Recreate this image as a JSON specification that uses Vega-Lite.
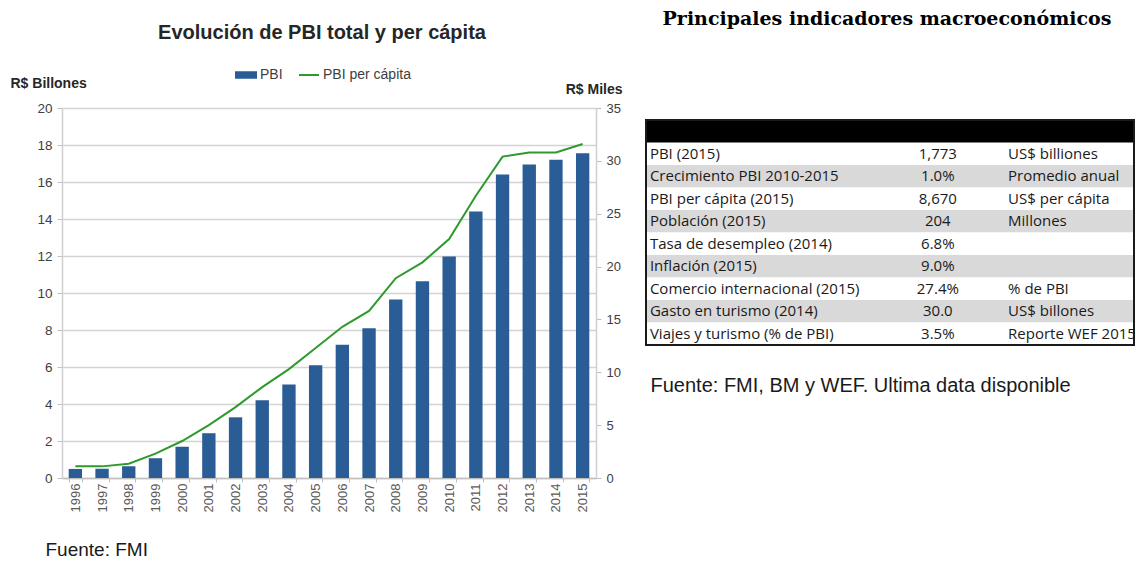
{
  "$schema": "https://vega.github.io/schema/vega-lite/v6.json",
  "background": "white",
  "padding": {"left": 10, "top": 10, "right": 0, "bottom": 0},
  "spacing": 23,
  "config": {"view": {"stroke": null}, "font": "Liberation Sans"},
  "hconcat": [
    {
      "width": 534,
      "height": 370,
      "title": {
        "text": "Evolución de PBI total y per cápita",
        "fontSize": 20,
        "fontWeight": "bold",
        "color": "#262626",
        "font": "Liberation Sans",
        "anchor": "middle",
        "dx": -7,
        "offset": 33
      },
      "data": {
        "values": [
          {"anio": "1996", "pbi": 0.49, "pc": 1.1},
          {"anio": "1997", "pbi": 0.5, "pc": 1.1},
          {"anio": "1998", "pbi": 0.63, "pc": 1.35},
          {"anio": "1999", "pbi": 1.07, "pc": 2.3},
          {"anio": "2000", "pbi": 1.69, "pc": 3.5},
          {"anio": "2001", "pbi": 2.42, "pc": 5.0},
          {"anio": "2002", "pbi": 3.28, "pc": 6.7},
          {"anio": "2003", "pbi": 4.2, "pc": 8.6},
          {"anio": "2004", "pbi": 5.06, "pc": 10.3},
          {"anio": "2005", "pbi": 6.1, "pc": 12.3},
          {"anio": "2006", "pbi": 7.2, "pc": 14.3},
          {"anio": "2007", "pbi": 8.1, "pc": 15.8},
          {"anio": "2008", "pbi": 9.65, "pc": 18.9},
          {"anio": "2009", "pbi": 10.63, "pc": 20.4},
          {"anio": "2010", "pbi": 11.97, "pc": 22.6},
          {"anio": "2011", "pbi": 14.4, "pc": 26.7},
          {"anio": "2012", "pbi": 16.4, "pc": 30.4},
          {"anio": "2013", "pbi": 16.95, "pc": 30.8},
          {"anio": "2014", "pbi": 17.2, "pc": 30.8},
          {"anio": "2015", "pbi": 17.55, "pc": 31.6}
        ]
      },
      "encoding": {
        "x": {
          "field": "anio",
          "type": "ordinal",
          "scale": {"paddingInner": 0.5, "paddingOuter": 0.25},
          "axis": {
            "labelAngle": -90,
            "labelFontSize": 13,
            "labelColor": "#595959",
            "labelPadding": 1,
            "tickBand": "extent",
            "tickSize": 4,
            "tickColor": "#bfbfbf",
            "domainColor": "#bfbfbf",
            "domainWidth": 1.5,
            "grid": false,
            "title": "Fuente: FMI",
            "titleAnchor": "start",
            "titleAlign": "left",
            "titleBaseline": "alphabetic",
            "titleX": -17,
            "titleY": 77,
            "titleFontSize": 19,
            "titleFontWeight": "normal",
            "titleColor": "#1a1a1a"
          }
        }
      },
      "layer": [
        {
          "mark": {"type": "bar"},
          "encoding": {
            "y": {
              "field": "pbi",
              "type": "quantitative",
              "scale": {"domain": [0, 20], "nice": false},
              "axis": {
                "values": [0, 2, 4, 6, 8, 10, 12, 14, 16, 18, 20],
                "title": "R$ Billones",
                "titleAngle": 0,
                "titleAlign": "left",
                "titleBaseline": "alphabetic",
                "titleX": -52,
                "titleY": -21,
                "titleFontSize": 14,
                "titleFontWeight": "bold",
                "titleColor": "#262626",
                "labelFontSize": 13.5,
                "labelColor": "#404040",
                "labelPadding": 5,
                "tickSize": 5,
                "tickColor": "#bfbfbf",
                "domainColor": "#d0d0d0",
                "domainWidth": 1.5,
                "grid": true,
                "gridColor": "#d3d3d3",
                "gridWidth": 1.5
              }
            },
            "color": {
              "datum": "PBI",
              "scale": {"domain": ["PBI", "PBI per cápita"], "range": ["#2a5d95", "#2e9a2e"]},
              "legend": {
                "orient": "none",
                "legendX": 173,
                "legendY": -44,
                "direction": "horizontal",
                "title": null,
                "labelFont": "Liberation Sans",
                "labelFontSize": 14,
                "labelColor": "#404040",
                "labelOffset": 3,
                "columnPadding": 12,
                "symbolSize": 400,
                "encode": {
                  "symbols": {
                    "update": {
                      "shape": {"signal": "datum.value === 'PBI' ? 'M-1,-0.28H1V0.28H-1Z' : 'M-1,0H1'"},
                      "fill": {"signal": "datum.value === 'PBI' ? '#2a5d95' : 'transparent'"},
                      "stroke": {"signal": "datum.value === 'PBI' ? '#2a5d95' : '#2e9a2e'"},
                      "strokeWidth": {"value": 2},
                      "opacity": {"value": 1}
                    }
                  }
                }
              }
            }
          }
        },
        {
          "mark": {"type": "line", "strokeWidth": 2},
          "encoding": {
            "y": {
              "field": "pc",
              "type": "quantitative",
              "scale": {"domain": [0, 35], "nice": false},
              "axis": {
                "orient": "right",
                "values": [0, 5, 10, 15, 20, 25, 30, 35],
                "title": "R$ Miles",
                "titleAngle": 0,
                "titleAlign": "right",
                "titleBaseline": "alphabetic",
                "titleX": 26,
                "titleY": -15,
                "titleFontSize": 14,
                "titleFontWeight": "bold",
                "titleColor": "#262626",
                "labelFontSize": 13,
                "labelColor": "#404040",
                "labelPadding": 5,
                "tickSize": 5,
                "tickColor": "#bfbfbf",
                "domainColor": "#d0d0d0",
                "domainWidth": 1.5,
                "grid": false
              }
            },
            "color": {"datum": "PBI per cápita"}
          }
        }
      ],
      "resolve": {"scale": {"y": "independent"}}
    },
    {
      "width": 488,
      "height": 237,
      "title": {
        "text": "Principales indicadores macroeconómicos",
        "font": "DejaVu Serif",
        "fontSize": 19,
        "fontWeight": "bold",
        "color": "#000000",
        "anchor": "middle",
        "dx": -3,
        "offset": 79
      },
      "layer": [
        {
          "data": {
            "values": [
              {"fila": 1, "indicador": "PBI (2015)", "valor": "1,773", "unidad": "US$ billiones"},
              {"fila": 2, "indicador": "Crecimiento PBI 2010-2015", "valor": "1.0%", "unidad": "Promedio anual"},
              {"fila": 3, "indicador": "PBI per cápita (2015)", "valor": "8,670", "unidad": "US$ per cápita"},
              {"fila": 4, "indicador": "Población (2015)", "valor": "204", "unidad": "Millones"},
              {"fila": 5, "indicador": "Tasa de desempleo (2014)", "valor": "6.8%", "unidad": ""},
              {"fila": 6, "indicador": "Inflación (2015)", "valor": "9.0%", "unidad": ""},
              {"fila": 7, "indicador": "Comercio internacional (2015)", "valor": "27.4%", "unidad": "% de PBI"},
              {"fila": 8, "indicador": "Gasto en turismo (2014)", "valor": "30.0", "unidad": "US$ billones"},
              {"fila": 9, "indicador": "Viajes y turismo (% de PBI)", "valor": "3.5%", "unidad": "Reporte WEF 2015"}
            ]
          },
          "encoding": {
            "y": {
              "field": "indicador",
              "type": "nominal",
              "scale": {
                "domain": ["encabezado", "PBI (2015)", "Crecimiento PBI 2010-2015", "PBI per cápita (2015)", "Población (2015)", "Tasa de desempleo (2014)", "Inflación (2015)", "Comercio internacional (2015)", "Gasto en turismo (2014)", "Viajes y turismo (% de PBI)"],
                "range": [12, 237],
                "paddingInner": 0,
                "paddingOuter": 0
              },
              "axis": null
            }
          },
          "layer": [
            {
              "mark": {"type": "rect"},
              "encoding": {
                "x": {
                  "datum": 0,
                  "type": "quantitative",
                  "scale": {"domain": [0, 1], "nice": false, "zero": false},
                  "axis": {
                    "labels": false,
                    "ticks": false,
                    "domain": false,
                    "grid": false,
                    "title": "Fuente: FMI, BM y WEF. Ultima data disponible",
                    "titleAnchor": "start",
                    "titleAlign": "left",
                    "titleBaseline": "alphabetic",
                    "titleX": 4,
                    "titleY": 46,
                    "titleFontSize": 20,
                    "titleFontWeight": "normal",
                    "titleFont": "Liberation Sans",
                    "titleColor": "#1a1a1a"
                  }
                },
                "x2": {"datum": 1},
                "color": {"condition": {"test": "datum.fila % 2 === 0", "value": "#d9d9d9"}, "value": "#ffffff"}
              }
            },
            {
              "data": {"values": [{"indicador": "encabezado"}]},
              "mark": {"type": "rect", "color": "#000000"},
              "encoding": {
                "x": {"datum": 0, "type": "quantitative"},
                "x2": {"datum": 1}
              }
            },
            {
              "mark": {"type": "text", "align": "left", "baseline": "middle", "font": "Open Sans", "fontSize": 15, "color": "#1a1a1a"},
              "encoding": {
                "x": {"datum": 0.008, "type": "quantitative"},
                "text": {"field": "indicador"}
              }
            },
            {
              "mark": {"type": "text", "align": "center", "baseline": "middle", "font": "Open Sans", "fontSize": 15, "color": "#1a1a1a"},
              "encoding": {
                "x": {"datum": 0.598, "type": "quantitative"},
                "text": {"field": "valor"}
              }
            },
            {
              "mark": {"type": "text", "align": "left", "baseline": "middle", "font": "Open Sans", "fontSize": 15, "color": "#1a1a1a", "clip": true},
              "encoding": {
                "x": {"datum": 0.742, "type": "quantitative"},
                "text": {"field": "unidad"}
              }
            }
          ]
        },
        {
          "data": {"values": [{"tabla": "Indicadores"}]},
          "mark": {"type": "rect", "fill": "transparent", "stroke": "#1a1a1a", "strokeWidth": 2},
          "encoding": {
            "y": {
              "field": "tabla",
              "type": "nominal",
              "scale": {"domain": ["Indicadores"], "range": [12, 237], "paddingInner": 0, "paddingOuter": 0},
              "axis": null
            },
            "x": {"datum": 0, "type": "quantitative"},
            "x2": {"datum": 1}
          }
        }
      ],
      "resolve": {"scale": {"y": "independent"}}
    }
  ]
}
